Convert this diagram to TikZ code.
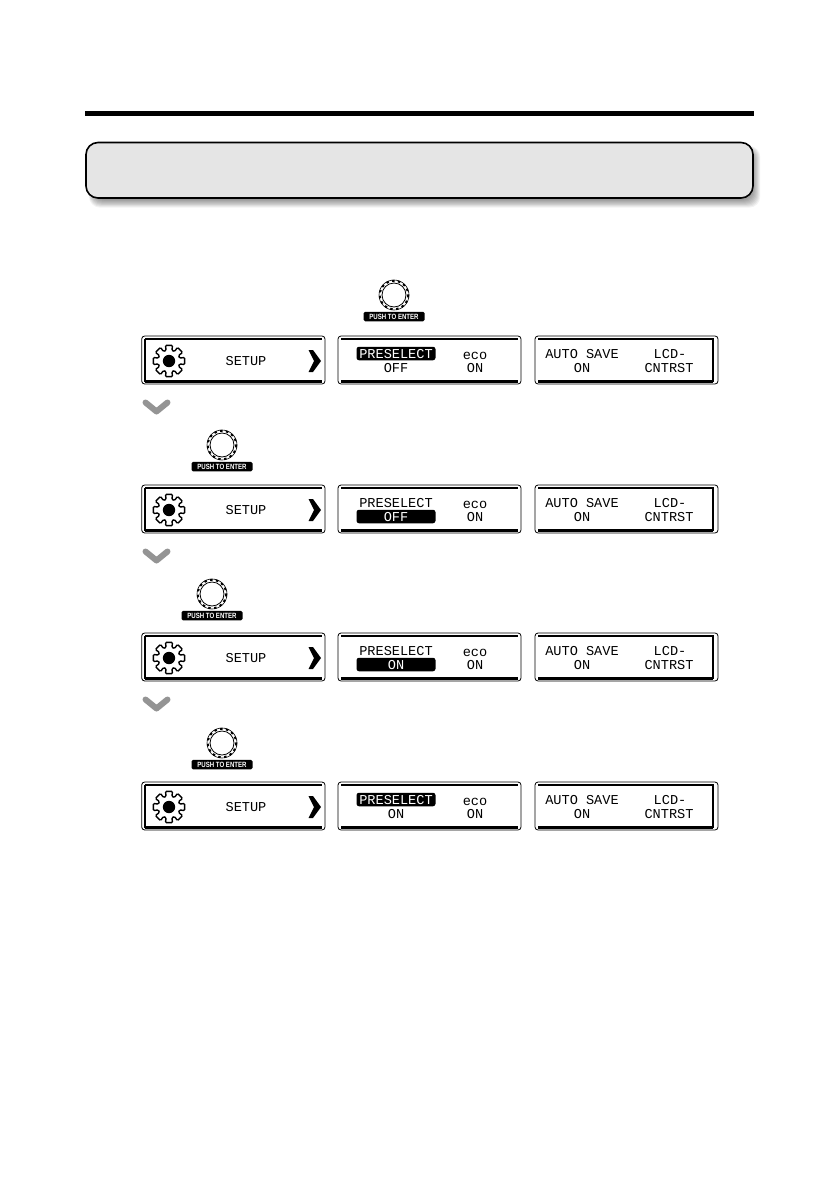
\documentclass[tikz,border=0pt]{standalone}
\usepackage{fontspec}
\setmainfont{Liberation Sans}
\newfontfamily\lcdfont{Liberation Mono}
\tikzset{
  x=1pt,y=-1pt,
  lcdtext/.style={font=\lcdfont\fontsize{13.6}{14}\selectfont,text=black,inner sep=0pt,anchor=center,text height=9pt,text depth=0pt},
  lcdsel/.style={fill=black,text=white,rounded corners=2.5pt,minimum width=79pt,minimum height=13.5pt},
  outerbox/.style={draw=black,line width=0.8pt,rounded corners=3pt,fill=white},
  heavy/.style={draw=black,line width=3pt},
  midline/.style={draw=black,line width=1.4pt},
  pushlabel/.style={fill=black,text=white,rounded corners=1.5pt,font=\bfseries\fontsize{7.6}{8}\selectfont,minimum width=61pt,minimum height=9.5pt,inner sep=0pt},
  downchev/.style={draw=black!42,line width=6pt,line join=round,line cap=round},
}
\newcommand{\lcdpanels}[3]{%
 \begin{scope}[shift={(0,#2)}]
  \path[outerbox] (141.7,0) rectangle (325,48);
  \path[midline] (145,3) -- (322,3);
  \path[heavy] (145,45) -- (322,45);
  \path[draw=black,line width=2pt] (145,3) -- (145,46);
  \begin{scope}[shift={(169,25)}]
    \draw[line width=1.4pt,rounded corners=1.1pt,fill=white]
      (-15:11) -- (-13:16) -- (13:16) -- (15:11)
      -- (30:11) -- (32:16) -- (58:16) -- (60:11)
      -- (75:11) -- (77:16) -- (103:16) -- (105:11)
      -- (120:11) -- (122:16) -- (148:16) -- (150:11)
      -- (165:11) -- (167:16) -- (193:16) -- (195:11)
      -- (210:11) -- (212:16) -- (238:16) -- (240:11)
      -- (255:11) -- (257:16) -- (283:16) -- (285:11)
      -- (300:11) -- (302:16) -- (328:16) -- (330:11) -- cycle;
    \fill[black] (0,0) circle (6.2);
  \end{scope}
  \node[lcdtext] (#1setup) at (246,25) {SETUP};
  \fill[black] (308.5,14) -- (313,14) -- (321,25) -- (313,36) -- (308.5,36) -- (314,25) -- cycle;
  \path[outerbox] (338,0) rectangle (521,48);
  \path[midline] (341,3) -- (518,3);
  \path[heavy] (341,45) -- (518,45);
  \node[lcdtext] (#1eco) at (475,18.5) {eco};
  \node[lcdtext] (#1ecoon) at (475,32) {ON};
  \path[outerbox] (535,0) rectangle (718,48);
  \path[midline] (538,3) -- (713,3);
  \path[heavy] (538,45) -- (713,45);
  \path[draw=black,line width=2.4pt] (713,2.2) -- (713,46);
  \node[lcdtext] (#1auto) at (582,17.5) {AUTO SAVE};
  \node[lcdtext] (#1autoon) at (582,32) {ON};
  \node[lcdtext] (#1lcd) at (670,17.5) {LCD-};
  \node[lcdtext] (#1cnt) at (669,32) {CNTRST};
  #3
 \end{scope}%
}
\newcommand{\knob}[2]{%
 \begin{scope}[shift={#2}]
  \draw[line width=0.8pt] (0,0) circle (12);
  \draw[line width=0.6pt] (0,0) circle (15);
  \draw[line width=2pt,dash pattern=on 2.5pt off 3.4pt] (0,0) circle (14.2);
  \node[pushlabel] (#1) at (0,21.5) {\scalebox{0.8}[1]{PUSH TO ENTER}};
 \end{scope}%
}
\newcommand{\chevron}[1]{%
 \draw[downchev] (145.5,#1-5.5) -- (156.5,#1+3.5) -- (167.5,#1-5.5);
}
\begin{document}
\begin{tikzpicture}
\useasboundingbox (0,0) rectangle (839,1191);
\fill[white] (0,0) rectangle (839,1191);
\fill[black] (85,111) rectangle (754,116);
\foreach \g in {8,7,...,0}{
  \fill[black,opacity=0.05,rounded corners=11pt]
    ({93-\g*0.5},{150-\g*0.5}) rectangle ({753+\g*0.9},{200+\g*0.95});
}
\draw[draw=black,line width=1.6pt,fill=black!10,rounded corners=12pt] (86,142.5) rectangle (753,198);
\knob{k1}{(394,295)}
\lcdpanels{a}{336}{%
  \node[lcdtext,lcdsel] (apre) at (396,17.5) {PRESELECT};
  \node[lcdtext] (aval) at (396,32) {OFF};}
\chevron{408}
\knob{k2}{(222,445)}
\lcdpanels{b}{485}{%
  \node[lcdtext] (bpre) at (396,17.5) {PRESELECT};
  \node[lcdtext,lcdsel] (bval) at (396,31.5) {OFF};}
\chevron{557}
\knob{k3}{(212,594)}
\lcdpanels{c}{633}{%
  \node[lcdtext] (cpre) at (396,17.5) {PRESELECT};
  \node[lcdtext,lcdsel] (cval) at (396,31.5) {ON};}
\chevron{705}
\knob{k4}{(222,743)}
\lcdpanels{d}{782}{%
  \node[lcdtext,lcdsel] (dpre) at (396,17.5) {PRESELECT};
  \node[lcdtext] (dval) at (396,32) {ON};}
\end{tikzpicture}
\end{document}
